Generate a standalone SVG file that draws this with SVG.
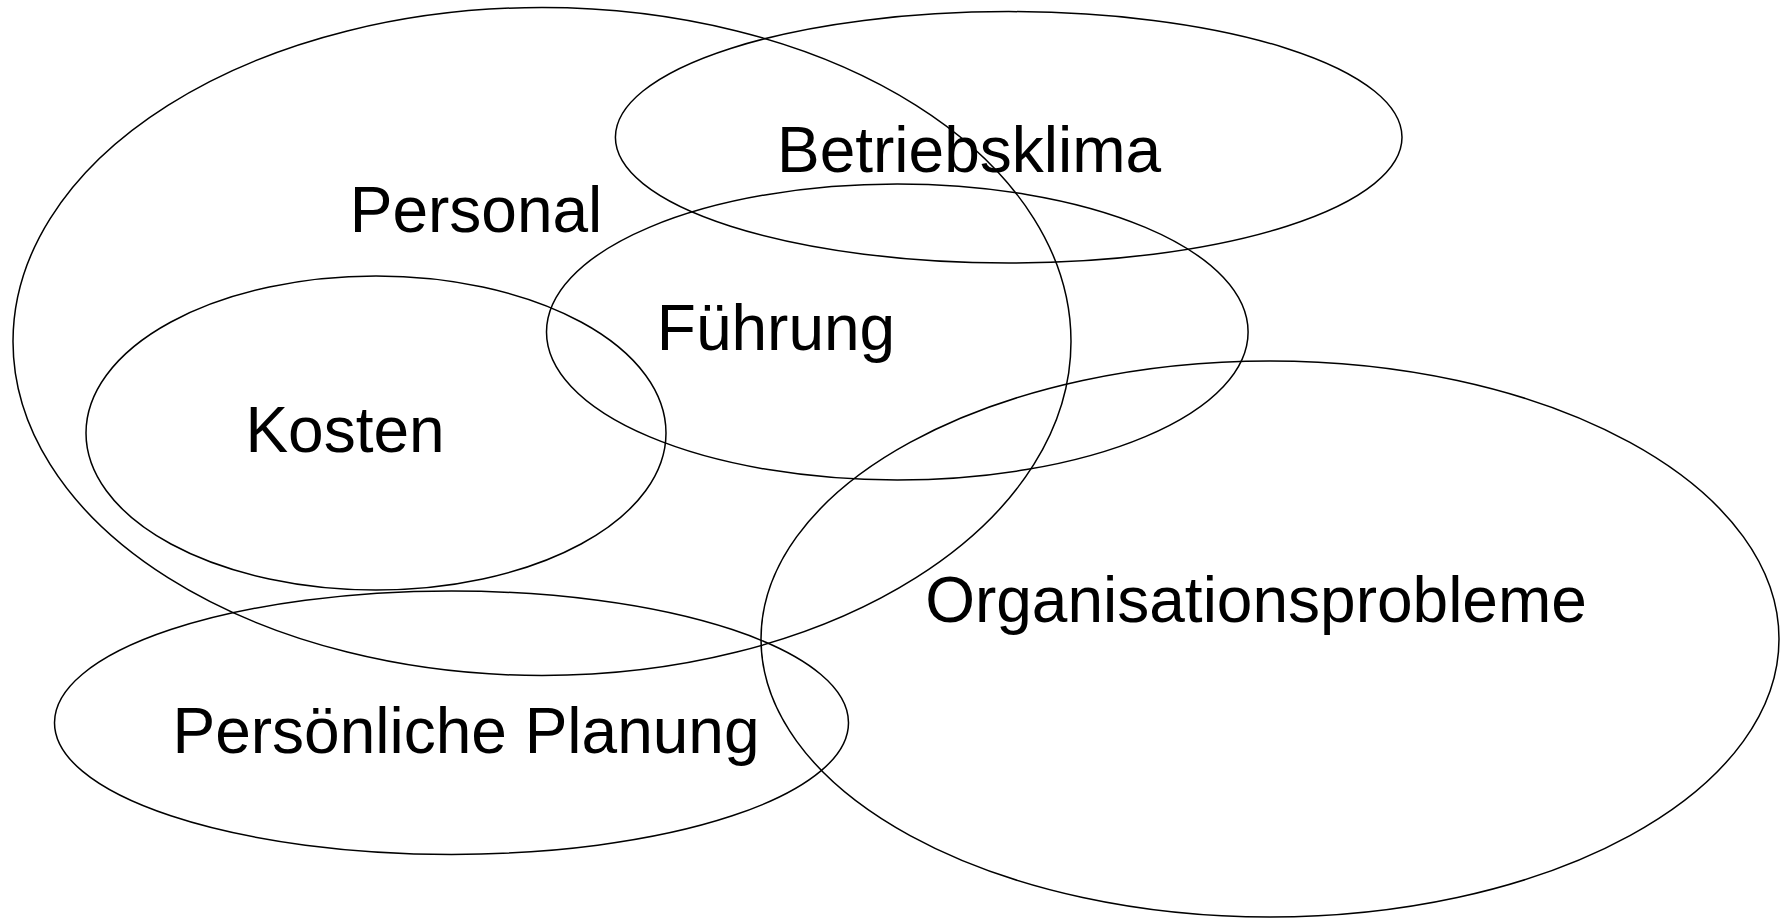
<svg xmlns="http://www.w3.org/2000/svg" width="1780" height="918" viewBox="0 0 1780 918">
<style>
.set{fill:none;stroke:#000;stroke-width:1.5}
.lbl{font-family:"Liberation Sans",Arial,sans-serif;font-size:64px;fill:#000;text-anchor:middle}
</style>
<rect width="1780" height="918" fill="#fff"/>
<g id="personal"><ellipse class="set" cx="542" cy="341.5" rx="529" ry="334"/><text class="lbl" x="476" y="232">Personal</text></g>
<g id="betriebsklima"><ellipse class="set" cx="1008.7" cy="137.3" rx="393.3" ry="125.7"/><text class="lbl" x="969" y="172">Betriebsklima</text></g>
<g id="fuehrung"><ellipse class="set" cx="897.3" cy="332" rx="350.8" ry="148"/><text class="lbl" x="776" y="350">Führung</text></g>
<g id="kosten"><ellipse class="set" cx="376" cy="433" rx="290" ry="157"/><text class="lbl" x="345" y="452">Kosten</text></g>
<g id="persoenliche-planung"><ellipse class="set" cx="451.5" cy="722.7" rx="397" ry="131.7"/><text class="lbl" x="466" y="753">Persönliche Planung</text></g>
<g id="organisationsprobleme"><ellipse class="set" cx="1270" cy="639" rx="509" ry="278"/><text class="lbl" x="1256" y="622">Organisationsprobleme</text></g>
<g id="connectors"/>
</svg>
